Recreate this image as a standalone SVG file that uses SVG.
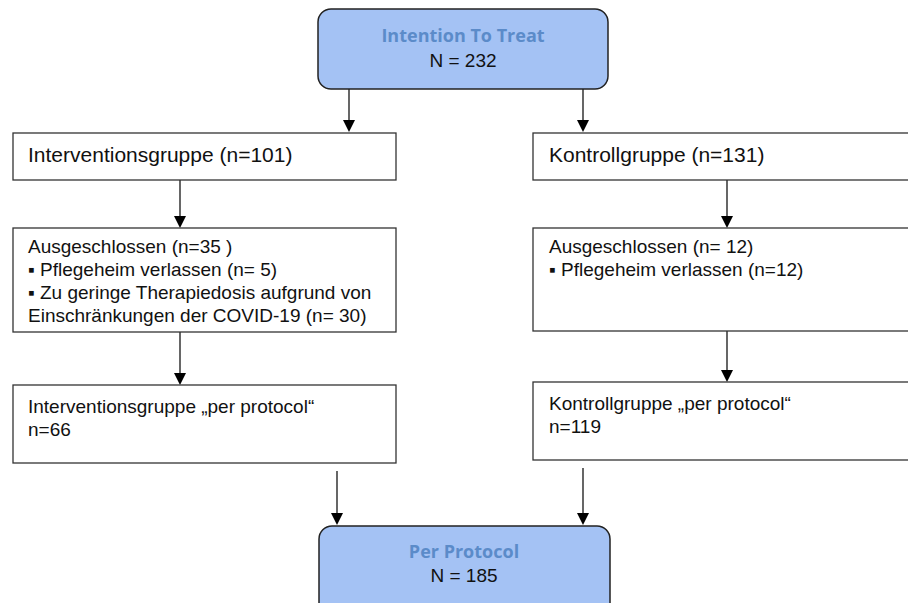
<svg xmlns="http://www.w3.org/2000/svg" width="908" height="603" viewBox="0 0 908 603">
<defs>
<path id="head" d="M-6,-12 L6,-12 L0,0 Z" fill="#000"/>
</defs>
<style>
.box{fill:#fff;stroke:#333;stroke-width:1.3}
.rbox{fill:#a4c2f4;stroke:#222;stroke-width:1.5}
.t{font-family:"Liberation Sans",Arial,sans-serif;font-size:19px;fill:#111}
.tl{font-family:"Liberation Sans",Arial,sans-serif;font-size:21px;fill:#111}
.h{font-family:"Open Sans","Lato",sans-serif;font-weight:bold;font-size:18px;fill:#5b8bc9}
.c{stroke:#000;stroke-width:1.2;fill:none}
</style>
<g id="connectors">
<line class="c" x1="349" y1="89" x2="349" y2="122"/>
<use href="#head" x="349" y="132"/>
<line class="c" x1="583" y1="89" x2="583" y2="122"/>
<use href="#head" x="583" y="132"/>
<line class="c" x1="180" y1="180" x2="180" y2="218"/>
<use href="#head" x="180" y="228"/>
<line class="c" x1="727" y1="180" x2="727" y2="218"/>
<use href="#head" x="727" y="228"/>
<line class="c" x1="180" y1="332" x2="180" y2="375"/>
<use href="#head" x="180" y="385"/>
<line class="c" x1="727" y1="331" x2="727" y2="372"/>
<use href="#head" x="727" y="382"/>
<line class="c" x1="337" y1="471" x2="337" y2="515"/>
<use href="#head" x="337" y="525"/>
<line class="c" x1="583" y1="468" x2="583" y2="515"/>
<use href="#head" x="583" y="525"/>
</g>
<g id="itt">
<rect class="rbox" x="318" y="9" width="290" height="80" rx="13"/>
<text class="h" x="463" y="42" text-anchor="middle">Intention To Treat</text>
<text class="t" x="463" y="67" text-anchor="middle">N = 232</text>
</g>
<g id="ig">
<rect class="box" x="13" y="133" width="383" height="47"/>
<text class="tl" x="28" y="162">Interventionsgruppe (n=101)</text>
</g>
<g id="kg">
<rect class="box" x="533" y="133" width="380" height="47"/>
<text class="tl" x="549" y="162">Kontrollgruppe (n=131)</text>
</g>
<g id="ig-excl">
<rect class="box" x="13" y="228" width="383" height="104"/>
<text class="t" x="28" y="253">Ausgeschlossen (n=35 )</text>
<text class="t" x="28" y="276">▪ Pflegeheim verlassen (n= 5)</text>
<text class="t" x="28" y="299">▪ Zu geringe Therapiedosis aufgrund von</text>
<text class="t" x="28" y="322">Einschränkungen der COVID-19 (n= 30)</text>
</g>
<g id="kg-excl">
<rect class="box" x="533" y="228" width="380" height="103"/>
<text class="t" x="549" y="253">Ausgeschlossen (n= 12)</text>
<text class="t" x="549" y="276">▪ Pflegeheim verlassen (n=12)</text>
</g>
<g id="ig-pp">
<rect class="box" x="13" y="385" width="383" height="78"/>
<text class="t" x="28" y="413">Interventionsgruppe „per protocol“</text>
<text class="t" x="28" y="436">n=66</text>
</g>
<g id="kg-pp">
<rect class="box" x="533" y="382" width="380" height="78"/>
<text class="t" x="549" y="410">Kontrollgruppe „per protocol“</text>
<text class="t" x="549" y="433">n=119</text>
</g>
<g id="pp">
<rect class="rbox" x="319" y="526" width="291" height="90" rx="13"/>
<text class="h" x="464" y="558" text-anchor="middle">Per Protocol</text>
<text class="t" x="464" y="582" text-anchor="middle">N = 185</text>
</g>
</svg>
